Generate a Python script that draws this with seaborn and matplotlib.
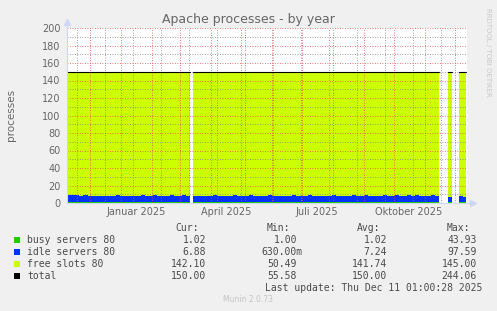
import numpy as np
import pandas as pd
import matplotlib
matplotlib.use("Agg")
import matplotlib.pyplot as plt
import matplotlib.dates as mdates
from matplotlib.ticker import MultipleLocator, FixedLocator, NullFormatter
from matplotlib.patches import Rectangle
import seaborn as sns

# ---------------- data ----------------
seg_start = ["2024-11-08", "2025-03-14", "2025-11-24", "2025-12-05"]
seg_end = ["2025-03-11", "2025-11-15", "2025-11-28", "2025-12-12"]
busy = [1.02, 1.01, 1.02, 1.02]
total = [150.0, 150.0, 150.0, 150.0]
idle_1 = [7.6, 7.9, 8.1, 7.4, 7.8, 7.2, 6.9, 7.5, 7.1, 6.8, 7.3, 7.0, 7.6, 6.9, 7.2,
          6.6, 7.4, 7.0, 7.8, 6.9, 7.3, 8.0, 7.1, 7.5, 6.8, 7.9, 7.2, 7.0, 7.6, 7.3]
idle_2 = [7.3, 7.0, 7.5, 6.9, 7.2, 7.8, 7.1, 6.8, 7.4, 7.0, 7.6, 7.2, 6.9, 7.3, 7.7,
          7.0, 7.4, 6.8, 7.2, 7.9, 7.1, 7.5, 6.9, 7.3, 7.0, 8.2, 7.1, 7.4, 6.8, 7.6,
          7.2, 7.0, 7.5, 6.7, 7.3, 7.8, 7.0, 7.4, 7.1, 6.9, 7.6, 7.2, 7.0, 8.3, 7.1,
          7.5, 6.9, 7.3, 7.7, 7.0, 7.4, 7.9, 7.2, 7.0, 7.6, 7.3, 7.8, 7.1, 7.5, 7.2,
          7.6, 7.4]
idle_3 = [6.4]
idle_4 = [6.6, 6.2]
idle_segments = [idle_1, idle_2, idle_3, idle_4]

month_ticks = ["2024-12-01", "2025-01-01", "2025-02-01", "2025-03-01", "2025-04-01",
               "2025-05-01", "2025-06-01", "2025-07-01", "2025-08-01", "2025-09-01",
               "2025-10-01", "2025-11-01", "2025-12-01"]
minor_ticks = ["2024-11-18", "2024-12-16", "2025-01-13", "2025-02-10", "2025-03-10",
               "2025-04-07", "2025-05-05", "2025-06-02", "2025-06-30", "2025-07-28",
               "2025-08-25", "2025-09-22", "2025-10-20", "2025-11-17"]
quarter_labels = ["Januar 2025", "April 2025", "Juli 2025", "Oktober 2025"]
quarter_label_pos = ["2025-01-16", "2025-04-16", "2025-07-16", "2025-10-16"]

legend_names = ["busy servers 80", "idle servers 80", "free slots 80", "total"]
cur_vals = ["1.02", "6.88", "142.10", "150.00"]
min_vals = ["1.00", "630.00m", "50.49", "55.58"]
avg_vals = ["1.02", "7.24", "141.74", "150.00"]
max_vals = ["43.93", "97.59", "145.00", "244.06"]

C_BUSY = "#22CC00"
C_IDLE = "#0033FF"
C_FREE = "#CCFF00"
C_TOTAL = "#000000"
FONT_C = "#666666"

# ---------------- figure ----------------
sns.set_style("white")
plt.rcParams["font.family"] = ["DejaVu Sans"]

W, H = 497, 311
fig = plt.figure(figsize=(W / 100, H / 100), dpi=100, facecolor="#F0F0F0")
ax = fig.add_axes([67 / W, (H - 203) / H, 400 / W, 175 / H])
ax.set_facecolor("white")

rows = []
for i, (s, e, b, t, idl) in enumerate(zip(seg_start, seg_end, busy, total, idle_segments)):
    n = len(idl)
    edges = pd.date_range(s, e, periods=n + 1)
    iv = np.array(idl + [idl[-1]], dtype=float)
    bv = np.full(n + 1, b)
    tv = np.full(n + 1, t)
    ax.fill_between(edges, 0, bv, step="post", color=C_BUSY, lw=0, zorder=1)
    ax.fill_between(edges, bv, bv + iv, step="post", color=C_IDLE, lw=0, zorder=1)
    ax.fill_between(edges, bv + iv, tv, step="post", color=C_FREE, lw=0, zorder=1)
    rows.append({"date": pd.Timestamp(s), "total": t, "seg": i})
    rows.append({"date": pd.Timestamp(e), "total": t, "seg": i})

df_tot = pd.DataFrame(rows)
sns.lineplot(data=df_tot, x="date", y="total", units="seg", estimator=None,
             color=C_TOTAL, linewidth=0.8, ax=ax, zorder=4, legend=False)

ax.set_xlim(pd.Timestamp("2024-11-08"), pd.Timestamp("2025-12-13"))
ax.set_ylim(0, 200)
ax.set_xlabel("")
ax.set_ylabel("")

# grid / ticks
ax.yaxis.set_major_locator(MultipleLocator(20))
ax.yaxis.set_minor_locator(MultipleLocator(10))
ax.xaxis.set_major_locator(FixedLocator(mdates.date2num(pd.to_datetime(month_ticks))))
ax.xaxis.set_minor_locator(FixedLocator(mdates.date2num(pd.to_datetime(minor_ticks))))
ax.xaxis.set_major_formatter(NullFormatter())
ax.xaxis.set_minor_formatter(NullFormatter())
ax.set_axisbelow(False)
ax.grid(which="major", color=(0.9, 0.3, 0.3, 0.28), linestyle=(0, (1, 2)), linewidth=0.6)
ax.grid(which="minor", color=(0.5, 0.5, 0.5, 0.25), linestyle=(0, (1, 2)), linewidth=0.6)
ax.tick_params(axis="both", which="major", direction="out", length=2.5, width=0.6,
               color=(0.92, 0.55, 0.55), labelsize=7, labelcolor=FONT_C, pad=2)
ax.tick_params(axis="both", which="minor", direction="out", length=2, width=0.6,
               color=(0.75, 0.75, 0.75))
ax.set_yticks(range(0, 201, 20))
ax.set_yticklabels([str(v) for v in range(0, 201, 20)])

for sp in ["top", "right"]:
    ax.spines[sp].set_visible(False)
for sp in ["left", "bottom"]:
    ax.spines[sp].set_color("#CFD6F8")
    ax.spines[sp].set_linewidth(0.8)
    ax.spines[sp].set_zorder(5)

# arrows
ax.plot([0], [1.035], marker="^", color="#CFD6F8", markersize=4, transform=ax.transAxes, clip_on=False)
ax.plot([0, 0], [1.0, 1.03], color="#CFD6F8", lw=0.8, transform=ax.transAxes, clip_on=False)
ax.plot([1.0, 1.012], [0, 0], color="#CFD6F8", lw=0.8, transform=ax.transAxes, clip_on=False)
ax.plot([1.014], [0], marker=">", color="#CFD6F8", markersize=4, transform=ax.transAxes, clip_on=False)

# quarter labels
trans = matplotlib.transforms.blended_transform_factory(ax.transData, fig.transFigure)
for lab, pos in zip(quarter_labels, quarter_label_pos):
    ax.text(mdates.date2num(pd.Timestamp(pos)), 1 - 212 / H, lab, transform=trans,
            ha="center", va="center", fontsize=7, color=FONT_C)

# title, labels
fig.text(248 / W, 1 - 19 / H, "Apache processes - by year", ha="center", va="center",
         fontsize=9, color=FONT_C)
fig.text(11 / W, 1 - 115 / H, "processes", rotation=90, ha="center", va="center",
         fontsize=7.5, color=FONT_C)
fig.text(488 / W, 1 - 52 / H, "RRDTOOL / TOBI OETIKER", rotation=270, ha="center",
         va="center", fontsize=5, color="#C8C8C8")
fig.text(248 / W, 1 - 300 / H, "Munin 2.0.73", ha="center", va="center",
         fontsize=5.5, color="#C4C4C4")

# legend table
mono = dict(family=["DejaVu Sans Mono"], fontsize=7, color="#4a4a4a", va="center")
hy = 228
for txt, xr in zip(["Cur:", "Min:", "Avg:", "Max:"], [199, 290, 380, 470]):
    fig.text(xr / W, 1 - hy / H, txt, ha="right", **mono)

colors = [C_BUSY, C_IDLE, C_FREE, C_TOTAL]
for r, (name, c) in enumerate(zip(legend_names, colors)):
    y = 240 + 12 * r
    fig.patches.append(Rectangle((14 / W, 1 - (y + 3) / H), 6 / W, 6 / H,
                                 transform=fig.transFigure, facecolor=c, edgecolor="none"))
    fig.text(27 / W, 1 - y / H, name, ha="left", **mono)
    for vals, xr in zip([cur_vals, min_vals, avg_vals, max_vals], [212, 303, 393, 483]):
        v = vals[r]
        xx = xr if v[-1].isalpha() else xr - 6
        fig.text(xx / W, 1 - y / H, v, ha="right", **mono)

fig.text(482 / W, 1 - 288 / H, "Last update: Thu Dec 11 01:00:28 2025", ha="right", **mono)

fig.savefig("out.png", dpi=100, facecolor=fig.get_facecolor())
